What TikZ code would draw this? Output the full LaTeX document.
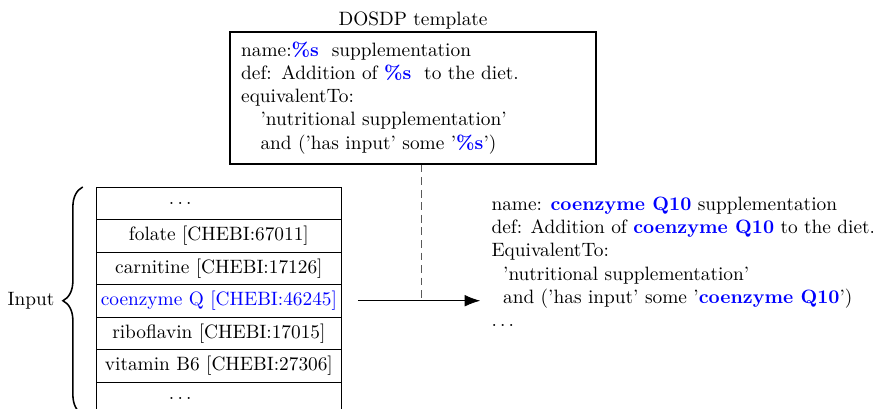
\documentclass[tikz,border=0pt]{standalone}
\usetikzlibrary{positioning,arrows.meta,decorations.pathreplacing}
\begin{document}
\begin{tikzpicture}[row/.style={draw, minimum width=4.47cm, minimum height=0.591cm, inner sep=0pt, outer sep=0pt}]
	\useasboundingbox (0,0) rectangle (15.873,-7.436);
	\node (tmpl) [draw, thick, minimum width=6.65cm, minimum height=2.4cm, inner xsep=0.2cm, text width=6.25cm, align=left] at (7.51,-1.78) {name:\textcolor{blue}{\textbf{\%s}}\ \ supplementation\\
		def: Addition of \textcolor{blue}{\textbf{\%s}}\ \ to the diet.\\
		equivalentTo:\\
		\quad'nutritional supplementation'\\
		\quad and ('has input' some '\textcolor{blue}{\textbf{\%s}}')};
	\node (title) [above=1pt of tmpl, inner sep=0pt] {DOSDP template};
	\node (r1) [row] at (3.98,-3.695) {$\ldots$\kern40pt};
	\node (r2) [row, below=0pt of r1] {folate [CHEBI:67011]};
	\node (r3) [row, below=0pt of r2] {carnitine [CHEBI:17126]};
	\node (r4) [row, below=0pt of r3, text=blue] {coenzyme Q [CHEBI:46245]};
	\node (r5) [row, below=0pt of r4] {riboflavin [CHEBI:17015]};
	\node (r6) [row, below=0pt of r5] {vitamin B6 [CHEBI:27306]};
	\node (r7) [row, below=0pt of r6] {$\ldots$\kern40pt};
	\node (inp) [left=0.75cm of r4, inner sep=0pt] {Input};
	\node (out) [anchor=west, align=left, inner sep=0pt] at (8.93,-4.76) {name: \textcolor{blue}{\textbf{coenzyme Q10}} supplementation\\
		def: Addition of \textcolor{blue}{\textbf{coenzyme Q10}} to the diet.\\
		EquivalentTo:\\
		\hspace{6pt}'nutritional supplementation'\\
		\hspace{6pt}and ('has input' some '\textcolor{blue}{\textbf{coenzyme Q10}}')\\
		$\ldots$};
	\coordinate (dtop) at ([xshift=0.15cm]tmpl.south);
	\coordinate (a0) at ([xshift=0.29cm]r4.east);
	\draw[thick, decorate, decoration={brace, amplitude=0.36cm}] ([xshift=-0.24cm]r7.south west) -- ([xshift=-0.24cm]r1.north west);
	\draw[gray!70!black, dash pattern=on 4pt off 2.5pt] (dtop) -- (dtop |- a0);
	\draw[-{Latex[length=8pt,width=6pt]}, shorten >=0.2cm] (a0) -- (a0 -| out.west);
\end{tikzpicture}
\end{document}
